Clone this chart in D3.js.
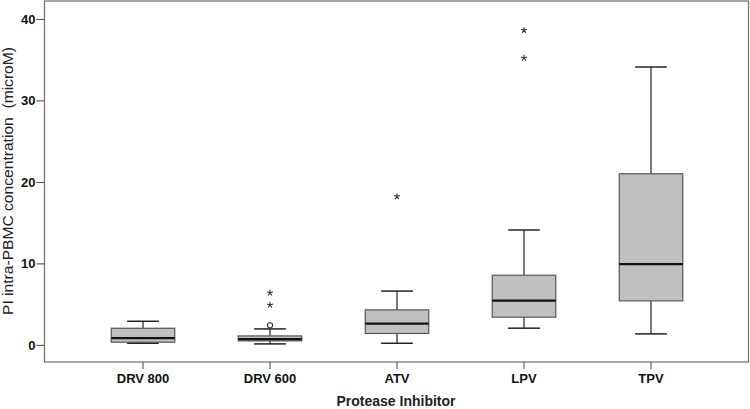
<!DOCTYPE html>
<html>
<head>
<meta charset="utf-8">
<script src="https://cdn.jsdelivr.net/npm/d3@7"></script>
<style>
html,body{margin:0;padding:0;background:#fff;}
svg{display:block;}
</style>
</head>
<body>
<svg id="chart" width="750" height="409"></svg>
<script>
// ---- Data ----
const categories = ["DRV 800", "DRV 600", "ATV", "LPV", "TPV"];
const whiskerLow  = [0.2, 0.12, 0.2, 2.05, 1.35];
const q1          = [0.33, 0.49, 1.4, 3.4, 5.4];
const medians     = [0.82, 0.7, 2.6, 5.44, 9.9];
const q3          = [2.04, 1.1, 4.3, 8.55, 21.0];
const whiskerHigh = [2.9, 1.96, 6.6, 14.1, 34.1];
// outliers: circles (mild) and stars (extreme)
const circleOutliers = [{cat: "DRV 600", v: 2.4}];
const starOutliers = [
  {cat: "DRV 600", v: 6.4}, {cat: "DRV 600", v: 4.9},
  {cat: "ATV", v: 18.2},
  {cat: "LPV", v: 38.6}, {cat: "LPV", v: 35.2}
];
const yTicks = [0, 10, 20, 30, 40];
const yTitle = "PI intra-PBMC concentration  (microM)";
const xTitle = "Protease Inhibitor";

// ---- Layout ----
const svg = d3.select("#chart");
const plot = {left: 44.5, right: 748.5, top: 1, bottom: 362};
const x = d3.scaleBand().domain(categories).range([79.5, 714.5]).padding(0);
const y = d3.scaleLinear().domain([-2.1, 42.2]).range([plot.bottom, plot.top]);
const boxW = x.bandwidth() * 0.5;
const capW = boxW * 0.5;
const font = "Liberation Sans, Arial, sans-serif";

const boxes = categories.map((c, i) => ({
  cat: c, lo: whiskerLow[i], q1: q1[i], med: medians[i], q3: q3[i], hi: whiskerHigh[i]
}));

const g = svg.append("g");

// frame
g.append("rect")
  .attr("x", plot.left).attr("y", plot.top)
  .attr("width", plot.right - plot.left).attr("height", plot.bottom - plot.top)
  .attr("fill", "none").attr("stroke", "#6e6e6e").attr("stroke-width", 1.2);

// Y axis
const yAxis = d3.axisLeft(y).tickValues(yTicks).tickSize(8).tickPadding(1);
const ya = g.append("g").attr("transform", `translate(${plot.left},0)`).call(yAxis);
ya.select(".domain").remove();
ya.selectAll(".tick line").attr("stroke", "#444");
ya.selectAll(".tick text")
  .attr("font-family", font)
  .attr("font-size", 13).attr("font-weight", "bold").attr("fill", "#111");

// X axis
const xAxis = d3.axisBottom(x).tickSize(7).tickPadding(5);
const xa = g.append("g").attr("transform", `translate(0,${plot.bottom})`).call(xAxis);
xa.select(".domain").remove();
xa.selectAll(".tick line").attr("stroke", "#444");
xa.selectAll(".tick text")
  .attr("font-family", font)
  .attr("font-size", 13).attr("font-weight", "bold").attr("fill", "#111");

// Boxes
const bg = g.append("g").selectAll("g").data(boxes).join("g")
  .attr("transform", d => `translate(${x(d.cat) + x.bandwidth() / 2},0)`);

// whisker lines
bg.append("line").attr("x1", 0).attr("x2", 0)
  .attr("y1", d => y(d.hi)).attr("y2", d => y(d.q3))
  .attr("stroke", "#222").attr("stroke-width", 1.2);
bg.append("line").attr("x1", 0).attr("x2", 0)
  .attr("y1", d => y(d.q1)).attr("y2", d => y(d.lo))
  .attr("stroke", "#222").attr("stroke-width", 1.2);
// caps
bg.append("line").attr("x1", -capW / 2).attr("x2", capW / 2)
  .attr("y1", d => y(d.hi)).attr("y2", d => y(d.hi))
  .attr("stroke", "#222").attr("stroke-width", 1.5);
bg.append("line").attr("x1", -capW / 2).attr("x2", capW / 2)
  .attr("y1", d => y(d.lo)).attr("y2", d => y(d.lo))
  .attr("stroke", "#222").attr("stroke-width", 1.5);
// box
bg.append("rect")
  .attr("x", -boxW / 2).attr("width", boxW)
  .attr("y", d => y(d.q3)).attr("height", d => y(d.q1) - y(d.q3))
  .attr("fill", "#c0c0c0").attr("stroke", "#555").attr("stroke-width", 1.2);
// median
bg.append("line").attr("x1", -boxW / 2).attr("x2", boxW / 2)
  .attr("y1", d => y(d.med)).attr("y2", d => y(d.med))
  .attr("stroke", "#111").attr("stroke-width", 2.2);

// outliers
g.append("g").selectAll("circle").data(circleOutliers).join("circle")
  .attr("cx", d => x(d.cat) + x.bandwidth() / 2).attr("cy", d => y(d.v))
  .attr("r", 2.6).attr("fill", "#fff").attr("stroke", "#333").attr("stroke-width", 1.1);

function asteriskPath(r) {
  const p = d3.path();
  for (let k = 0; k < 5; k++) {
    const a = -Math.PI / 2 + k * 2 * Math.PI / 5;
    p.moveTo(0, 0);
    p.lineTo(r * Math.cos(a), r * Math.sin(a));
  }
  return p.toString();
}
g.append("g").selectAll("path").data(starOutliers).join("path")
  .attr("transform", d => `translate(${x(d.cat) + x.bandwidth() / 2},${y(d.v)})`)
  .attr("d", asteriskPath(3.2))
  .attr("fill", "none").attr("stroke", "#333").attr("stroke-width", 1.1);

// titles
svg.append("text")
  .attr("x", 396).attr("y", 406)
  .attr("text-anchor", "middle")
  .attr("font-family", font)
  .attr("font-size", 14).attr("font-weight", "bold").attr("fill", "#222")
  .text(xTitle);
svg.append("text")
  .attr("transform", `translate(12.5,315) rotate(-90)`)
  .attr("text-anchor", "start")
  .attr("font-family", font)
  .attr("font-size", 14).attr("fill", "#222")
  .attr("textLength", 268).attr("lengthAdjust", "spacingAndGlyphs")
  .attr("xml:space", "preserve").style("white-space", "pre")
  .text(yTitle);
</script>
</body>
</html>
